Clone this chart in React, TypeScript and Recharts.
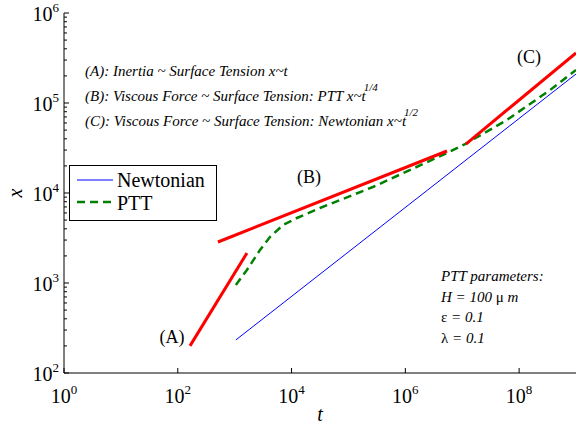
import { LineChart, Line, XAxis, YAxis } from "recharts";

// t (x axis) and x (y axis)
const redA = [
  { t: 164, x: 200 },
  { t: 1645, x: 2155 },
];
const redB = [
  { t: 508, x: 2855 },
  { t: 5.4e6, x: 29300 },
];
const redC = [
  { t: 1.16e7, x: 35000 },
  { t: 1e9, x: 3.6e5 },
];
const newtonian = [
  { t: 1050, x: 233 },
  { t: 1e9, x: 2.1e5 },
];
const ptt = [
  { t: 1050, x: 950 },
  { t: 1640, x: 1395 },
  { t: 2790, x: 2330 },
  { t: 4170, x: 3245 },
  { t: 7080, x: 4410 },
  { t: 12400, x: 5275 },
  { t: 31600, x: 6810 },
  { t: 2.69e5, x: 11660 },
  { t: 5.37e6, x: 27800 },
  { t: 1.12e7, x: 35000 },
  { t: 6.1e7, x: 64700 },
  { t: 3.48e8, x: 1.39e5 },
  { t: 1e9, x: 2.33e5 },
];

const xTicks = [1, 1e2, 1e4, 1e6, 1e8];
const yMajor = [1e2, 1e3, 1e4, 1e5, 1e6];
const yMinorSteps = [2, 3, 4, 5, 6, 7, 8, 9];
const yTicks = [
  ...yMajor,
  ...yMajor.slice(0, -1).flatMap((m) => yMinorSteps.map((k) => k * m)),
];

const FONT = "Liberation Serif, Tinos, DejaVu Serif, Noto Serif, serif";

const exp = (v: number) => Math.round(Math.log10(v));
const isMajor = (v: number) => Math.abs(Math.log10(v) - exp(v)) < 1e-9;

function BottomTick({ x, y, payload }: any) {
  return (
    <g>
      <line x1={x} y1={y} x2={x} y2={y - 5} stroke="#000" />
      <text x={x} y={y + 30} textAnchor="middle" fontFamily={FONT} fontSize={20} fill="#000">
        <tspan>10</tspan>
        <tspan dy={-9} fontSize={13}>{exp(payload.value)}</tspan>
      </text>
    </g>
  );
}

function TopTick({ x, y }: any) {
  return <line x1={x} y1={y} x2={x} y2={y + 5} stroke="#000" />;
}

function LeftTick({ x, y, payload }: any) {
  const major = isMajor(payload.value);
  return (
    <g>
      <line x1={x} y1={y} x2={x + (major ? 5 : 3)} y2={y} stroke="#000" />
      {major && (
        <text x={x - 5} y={y + 8} textAnchor="end" fontFamily={FONT} fontSize={20} fill="#000">
          <tspan>10</tspan>
          <tspan dy={-9} fontSize={13}>{exp(payload.value)}</tspan>
        </text>
      )}
    </g>
  );
}

function RightTick({ x, y, payload }: any) {
  const major = isMajor(payload.value);
  return <line x1={x} y1={y} x2={x - (major ? 5 : 3)} y2={y} stroke="#000" />;
}

export default function App() {
  const italic = { fontFamily: FONT, fontStyle: "italic" as const, fontSize: 15, fill: "#000" };
  return (
    <div style={{ position: "absolute", left: 0, top: 0, width: 577, height: 429, background: "#fff" }}>
      <LineChart width={577} height={429} margin={{ top: 13, right: 1, bottom: 0, left: 0 }}>
        <XAxis
          dataKey="t"
          type="number"
          scale="log"
          domain={[1, 1e9]}
          allowDataOverflow
          ticks={xTicks}
          interval={0}
          height={56}
          tickSize={0}
          tickMargin={0}
          tickLine={false}
          tick={<BottomTick />}
          axisLine={{ stroke: "#000" }}
        />
        <XAxis
          xAxisId="top"
          orientation="top"
          dataKey="t"
          type="number"
          scale="log"
          domain={[1, 1e9]}
          allowDataOverflow
          ticks={xTicks}
          interval={0}
          height={0}
          tickSize={0}
          tickMargin={0}
          tickLine={false}
          tick={<TopTick />}
          axisLine={{ stroke: "#000" }}
        />
        <YAxis
          type="number"
          scale="log"
          domain={[1e2, 1e6]}
          allowDataOverflow
          ticks={yTicks}
          interval={0}
          width={64}
          tickSize={0}
          tickMargin={0}
          tickLine={false}
          tick={<LeftTick />}
          axisLine={{ stroke: "#000" }}
        />
        <YAxis
          yAxisId="right"
          orientation="right"
          type="number"
          scale="log"
          domain={[1e2, 1e6]}
          allowDataOverflow
          ticks={yTicks}
          interval={0}
          width={0}
          tickSize={0}
          tickMargin={0}
          tickLine={false}
          tick={<RightTick />}
          axisLine={{ stroke: "#000" }}
        />
        <Line data={newtonian} dataKey="x" stroke="#0000FF" strokeWidth={1} dot={false} isAnimationActive={false} />
        <Line data={ptt} dataKey="x" stroke="#008000" strokeWidth={2.5} strokeDasharray="8 5" dot={false} isAnimationActive={false} />
        <Line data={redA} dataKey="x" stroke="#FF0000" strokeWidth={3} dot={false} isAnimationActive={false} />
        <Line data={redB} dataKey="x" stroke="#FF0000" strokeWidth={3} dot={false} isAnimationActive={false} />
        <Line data={redC} dataKey="x" stroke="#FF0000" strokeWidth={3} dot={false} isAnimationActive={false} />
      </LineChart>

      <svg
        width={577}
        height={429}
        style={{ position: "absolute", left: 0, top: 0, pointerEvents: "none" }}
      >
        <g xmlSpace="preserve" style={{ whiteSpace: "pre" }}>
          <text x={85} y={76} {...italic}>{"(A): Inertia  ~ Surface Tension x~t"}</text>
          <text x={85} y={101} {...italic}>
            <tspan>{"(B): Viscous Force  ~ Surface Tension: PTT x~t"}</tspan>
            <tspan dx={-2} dy={-10} fontSize={11}>1/4</tspan>
          </text>
          <text x={85} y={126} {...italic}>
            <tspan>{"(C): Viscous Force  ~ Surface Tension: Newtonian x~t"}</tspan>
            <tspan dx={-2} dy={-10} fontSize={11}>1/2</tspan>
          </text>
        </g>

        <text x={172} y={343} textAnchor="middle" fontFamily={FONT} fontSize={18}>(A)</text>
        <text x={309} y={183} textAnchor="middle" fontFamily={FONT} fontSize={18}>(B)</text>
        <text x={529} y={63} textAnchor="middle" fontFamily={FONT} fontSize={18}>(C)</text>

        <text x={441} y={281} {...italic}>PTT parameters:</text>
        <text x={441} y={302} {...italic}>
          H = 100 <tspan fontStyle="normal">μ</tspan> m
        </text>
        <text x={441} y={322} {...italic}>
          <tspan fontStyle="normal">ε</tspan> = 0.1
        </text>
        <text x={441} y={343} {...italic}>
          <tspan fontStyle="normal">λ</tspan> = 0.1
        </text>

        <rect x={69.5} y={165.5} width={147} height={55} fill="#fff" stroke="#000" />
        <line x1={77} y1={180} x2={113} y2={180} stroke="#0000FF" strokeWidth={1} />
        <text x={117} y={187} fontFamily={FONT} fontSize={20}>Newtonian</text>
        <line x1={77} y1={202} x2={113} y2={202} stroke="#008000" strokeWidth={2.5} strokeDasharray="8 5" />
        <text x={117} y={210} fontFamily={FONT} fontSize={20}>PTT</text>

        <text x={320} y={421} textAnchor="middle" fontFamily={FONT} fontStyle="italic" fontSize={20}>t</text>
        <text
          x={22}
          y={193}
          textAnchor="middle"
          fontFamily={FONT}
          fontStyle="italic"
          fontSize={20}
          transform="rotate(-90 22 193)"
        >
          x
        </text>
      </svg>
    </div>
  );
}
